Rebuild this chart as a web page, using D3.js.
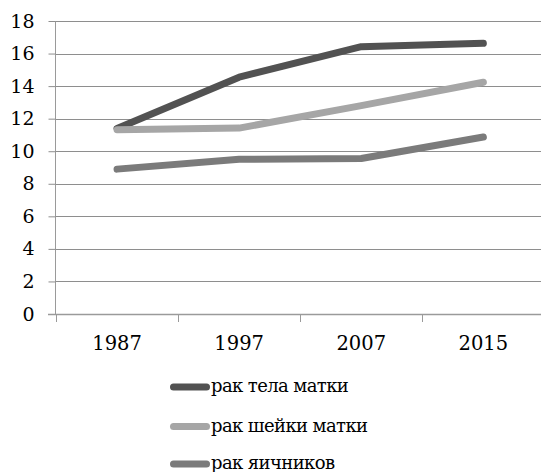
<!DOCTYPE html>
<html><head><meta charset="utf-8">
<script src="https://cdn.jsdelivr.net/npm/d3@7"></script>
<style>body{margin:0;background:#fff}svg{display:block}</style>
</head><body>
<script>
const categories = ["1987", "1997", "2007", "2015"];
const seriesNames = ["рак тела матки", "рак шейки матки", "рак яичников"];
const uterusBody = [11.4, 14.55, 16.42, 16.63];
const cervix = [11.32, 11.42, 12.8, 14.24];
const ovary = [8.9, 9.5, 9.55, 10.87];
const yTicks = [0, 2, 4, 6, 8, 10, 12, 14, 16, 18];
const colors = ["#525252", "#a6a6a6", "#7b7b7b"];

const W = 541, H = 472;
const font = "'DejaVu Serif', serif";
const svg = d3.select("body").append("svg").attr("width", W).attr("height", H);

const x = d3.scaleBand().domain(categories).range([56, 544.4]).padding(0);
const y = d3.scaleLinear().domain([0, 18]).range([314, 21]);

// gridlines
svg.append("g").selectAll("line").data(yTicks.filter(d => d > 0)).join("line")
  .attr("x1", 56).attr("x2", W).attr("y1", d => Math.round(y(d)) + 0.5).attr("y2", d => Math.round(y(d)) + 0.5)
  .attr("stroke", "#8e8e8e").attr("stroke-width", 1);

// y axis
const ya = svg.append("g").attr("transform", "translate(55.5,0)")
  .call(d3.axisLeft(y).tickValues(yTicks).tickSize(7).tickPadding(14));
ya.select(".domain").attr("stroke", "#9a9a9a").attr("d", `M0,${y(18)}V${y(0)}`);
ya.selectAll(".tick line").attr("stroke", "#8e8e8e");
ya.selectAll("text").attr("font-family", font).attr("font-size", 19).attr("fill", "#000");

// x axis line
svg.append("line").attr("x1", 48).attr("x2", W).attr("y1", y(0) + 0.5).attr("y2", y(0) + 0.5)
  .attr("stroke", "#9a9a9a").attr("stroke-width", 1.5);
// x tick marks at band boundaries
svg.append("g").selectAll("line").data(categories).join("line")
  .attr("x1", d => Math.round(x(d)) + 0.5).attr("x2", d => Math.round(x(d)) + 0.5)
  .attr("y1", y(0)).attr("y2", y(0) + 8).attr("stroke", "#9a9a9a");
// x labels
svg.append("g").selectAll("text").data(categories).join("text")
  .attr("x", d => x(d) + x.bandwidth() / 2).attr("y", 350)
  .attr("text-anchor", "middle").attr("font-family", font).attr("font-size", 19.5).text(d => d);

// lines
const data = [uterusBody, cervix, ovary];
const line = d3.line().x((d, i) => x(categories[i]) + x.bandwidth() / 2).y(d => y(d));
svg.append("g").selectAll("path").data(data).join("path")
  .attr("d", line).attr("fill", "none")
  .attr("stroke", (d, i) => colors[i]).attr("stroke-width", 7)
  .attr("stroke-linecap", "round").attr("stroke-linejoin", "round");

// legend
const legY = [387, 426.5, 464];
const lg = svg.append("g").selectAll("g").data(seriesNames).join("g")
  .attr("transform", (d, i) => `translate(0,${legY[i]})`);
lg.append("line").attr("x1", 173.5).attr("x2", 206.5).attr("y1", 0).attr("y2", 0)
  .attr("stroke", (d, i) => colors[i]).attr("stroke-width", 7).attr("stroke-linecap", "round");
lg.append("text").attr("x", 211).attr("y", 5).attr("font-family", font).attr("font-size", 18)
  .attr("letter-spacing", -0.6).text(d => d);
</script>
</body></html>
